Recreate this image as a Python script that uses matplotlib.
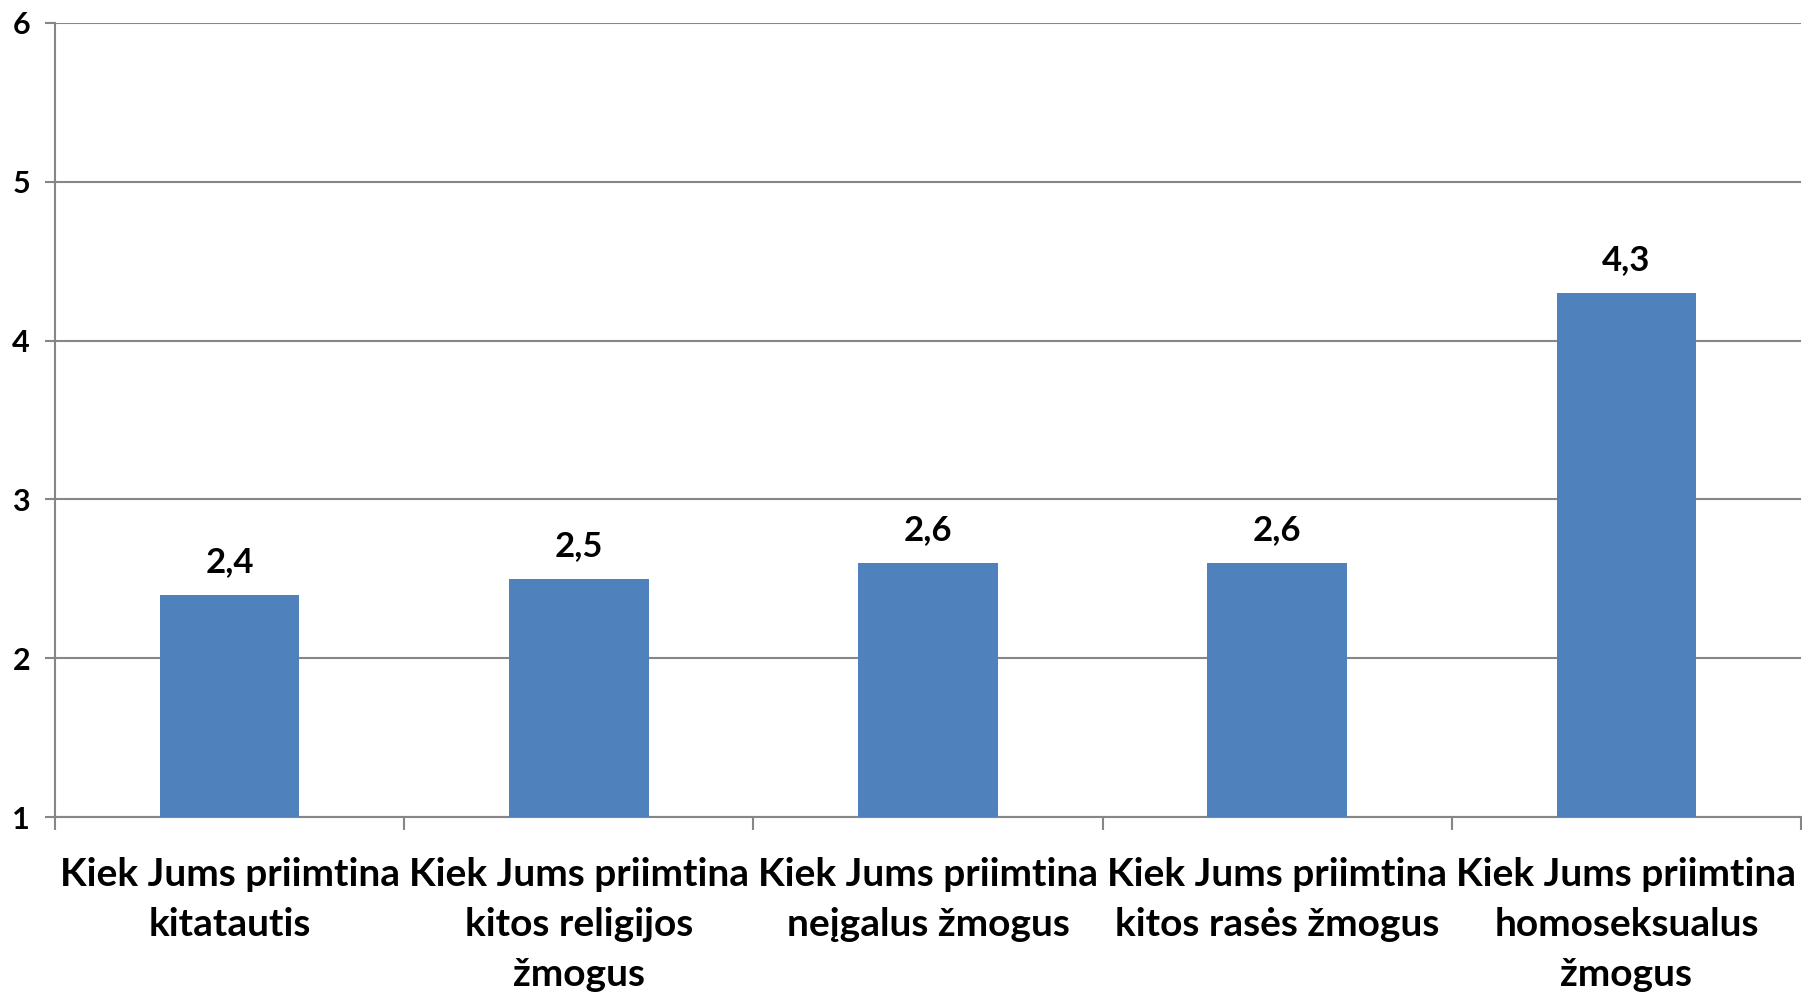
import numpy as np
import matplotlib
matplotlib.use('Agg')
import matplotlib.pyplot as plt

categories = ['Kiek Jums priimtina\nkitatautis',
              'Kiek Jums priimtina\nkitos religijos\nžmogus',
              'Kiek Jums priimtina\nneįgalus žmogus',
              'Kiek Jums priimtina\nkitos rasės žmogus',
              'Kiek Jums priimtina\nhomoseksualus\nžmogus']
values = [2.4, 2.5, 2.6, 2.6, 4.3]
labels = ['2,4', '2,5', '2,6', '2,6', '4,3']
yticks = [1, 2, 3, 4, 5, 6]

plt.rcParams['font.family'] = ['Lato', 'DejaVu Sans']
plt.rcParams['font.weight'] = 'bold'

W, H = 1802, 997
fig = plt.figure(figsize=(W / 100, H / 100), dpi=100)
ax = fig.add_axes([55 / W, 1 - 817 / H, 1746 / W, 794 / H])

grid_c = '#868686'
x = np.arange(len(values))
ax.bar(x, values, width=0.4, bottom=0, color='#4F81BD', zorder=3)
ax.set_xlim(-0.5, len(values) - 0.5)
ax.set_ylim(1, 6)

ax.set_yticks(yticks)
ax.set_yticklabels([str(t) for t in yticks], fontsize=22, fontweight='bold')
ax.yaxis.grid(True, color=grid_c, linewidth=1.5, zorder=0)
ax.tick_params(axis='y', length=7, width=1.5, color=grid_c, pad=11)

ax.set_xticks(x)
ax.set_xticklabels(categories, fontsize=28, fontweight='bold', linespacing=1.52)
ax.set_xticks(np.arange(len(values) + 1) - 0.5, minor=True)
ax.tick_params(axis='x', which='major', length=0, pad=29)
ax.tick_params(axis='x', which='minor', length=9, width=1.5, color=grid_c)

for s in ['top', 'right']:
    ax.spines[s].set_visible(False)
for s in ['left', 'bottom']:
    ax.spines[s].set_color(grid_c)
    ax.spines[s].set_linewidth(1.5)

for xi, v, lab in zip(x, values, labels):
    ax.annotate(lab, (xi, v), xytext=(0, 12), textcoords='offset points',
                ha='center', va='bottom', fontsize=25, fontweight='bold')

fig.savefig('out.png', dpi=100)
